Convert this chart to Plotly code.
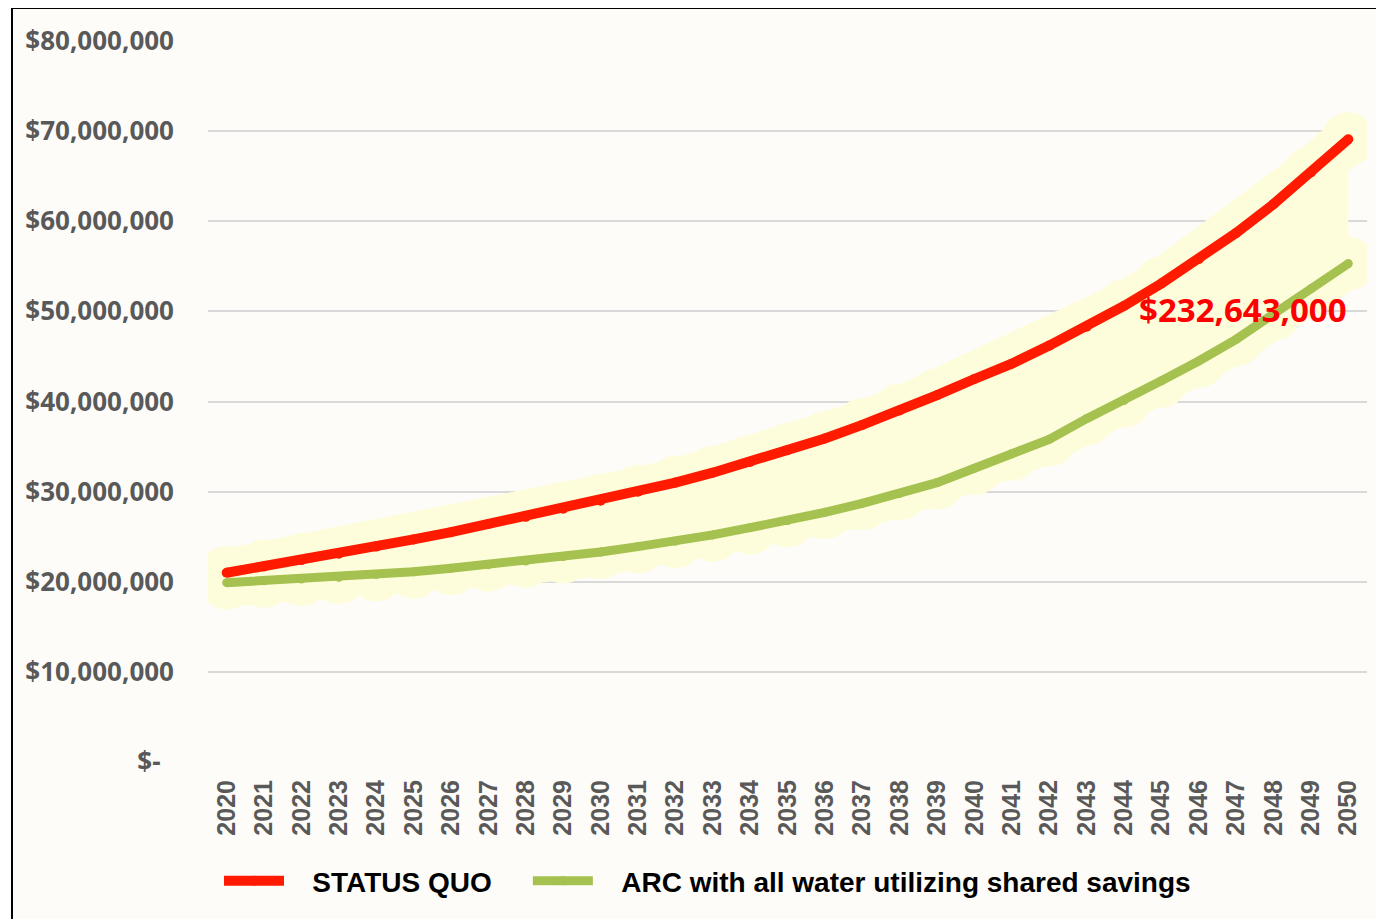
import plotly.graph_objects as go

years = [str(y) for y in range(2020, 2051)]

status_quo = [21.0, 21.7, 22.4, 23.1, 23.9, 24.7, 25.5, 26.4, 27.2, 28.1,
              29.0, 30.0, 31.0, 32.1, 33.3, 34.6, 35.9, 37.4, 39.0, 40.7,
              42.5, 44.2, 46.2, 48.3, 50.6, 53.1, 55.8, 58.7, 61.9, 65.4, 69.1]
status_quo = [v * 1e6 for v in status_quo]

arc_shared = [19.9, 20.1, 20.3, 20.5, 20.8, 21.1, 21.5, 21.9, 22.3, 22.8,
              23.3, 23.9, 24.5, 25.2, 26.0, 26.8, 27.7, 28.7, 29.8, 31.0,
              32.6, 34.2, 35.8, 38.1, 40.1, 42.3, 44.5, 46.9, 49.7, 52.5, 55.3]
arc_shared = [v * 1e6 for v in arc_shared]

y_ticks = [0, 10e6, 20e6, 30e6, 40e6, 50e6, 60e6, 70e6, 80e6]
y_tick_text = ["$-\u00a0\u00a0", "$10,000,000", "$20,000,000", "$30,000,000",
               "$40,000,000", "$50,000,000", "$60,000,000", "$70,000,000",
               "$80,000,000"]

series_names = ["STATUS QUO", "ARC with all water utilizing shared savings"]
annotation_text = "$232,643,000"

RED = "#FF1A00"
GREEN = "#A5C14F"
GLOW = "#FDFDDC"
BG = "#FDFCF9"

OFF = 7  # page offset of the figure inside the browser window
W, H = 1384, 919
L, R, T, B = 207 - OFF, 25, 40 - OFF, 165
pw = W - L - R
ph = H - T - B


def px_x(x):
    # x in window pixels -> paper fraction
    return (x - OFF - L) / pw


def px_y(y):
    return (H - B - (y - OFF)) / ph


fig = go.Figure()

# glow / band between the series
fig.add_trace(go.Scatter(x=years, y=arc_shared, mode="lines+markers",
                         line=dict(color=GLOW, width=48),
                         marker=dict(color=GLOW, size=54),
                         showlegend=False, hoverinfo="skip"))
fig.add_trace(go.Scatter(x=years, y=status_quo, mode="lines+markers",
                         line=dict(color=GLOW, width=48),
                         marker=dict(color=GLOW, size=54),
                         showlegend=False, hoverinfo="skip"))
fig.add_trace(go.Scatter(x=years, y=arc_shared, mode="lines",
                         line=dict(color=GLOW, width=0),
                         showlegend=False, hoverinfo="skip"))
fig.add_trace(go.Scatter(x=years, y=status_quo, mode="lines",
                         line=dict(color=GLOW, width=0), fill="tonexty",
                         fillcolor=GLOW, showlegend=False, hoverinfo="skip"))

# main series
pad = "\u00a0\u00a0\u00a0"
fig.add_trace(go.Scatter(x=years, y=status_quo,
                         name=pad + series_names[0] + "\u00a0\u00a0\u00a0\u00a0",
                         mode="lines+markers",
                         line=dict(color=RED, width=10),
                         marker=dict(color=RED, size=10)))
fig.add_trace(go.Scatter(x=years, y=arc_shared, name=pad + series_names[1],
                         mode="lines+markers",
                         line=dict(color=GREEN, width=9),
                         marker=dict(color=GREEN, size=9)))

fig.add_annotation(text=annotation_text, xref="paper", yref="y",
                   x=px_x(1242), y=50.2e6, showarrow=False,
                   xanchor="center", yanchor="middle",
                   font=dict(family="Noto Sans", size=33, color="#FF0000",
                             weight="bold"))

# chart frame
fig.add_shape(type="rect", xref="paper", yref="paper",
              x0=px_x(11), x1=px_x(1400), y0=px_y(935), y1=px_y(7),
              line=dict(color="black", width=2), fillcolor=BG, layer="below")

fig.update_layout(
    width=W, height=H,
    margin=dict(l=L, r=R, t=T, b=B, autoexpand=False),
    paper_bgcolor="white",
    plot_bgcolor="rgba(0,0,0,0)",
    showlegend=True,
    legend=dict(orientation="h", x=px_x(218), xanchor="left",
                y=px_y(880), yanchor="middle",
                font=dict(family="Liberation Sans", size=28, color="black",
                          weight="bold"),
                bgcolor="rgba(0,0,0,0)", itemwidth=60,
                traceorder="normal"),
    xaxis=dict(type="category", range=[-0.5, 30.5], automargin=False,
               showgrid=False, showline=False,
               zeroline=False, tickangle=-90, ticks="",
               ticklabelstandoff=12,
               tickfont=dict(family="Liberation Sans", size=25,
                             color="#595959", weight="bold")),
    yaxis=dict(range=[0, 80e6], tickvals=y_ticks, ticktext=y_tick_text,
               automargin=False,
               showgrid=True, gridcolor="#D9D9D9", gridwidth=2,
               zeroline=False, showline=False, ticks="",
               ticklabelstandoff=33,
               tickfont=dict(family="Noto Sans", size=26, color="#595959",
                             weight="bold")),
)

fig.write_html("out.html")
